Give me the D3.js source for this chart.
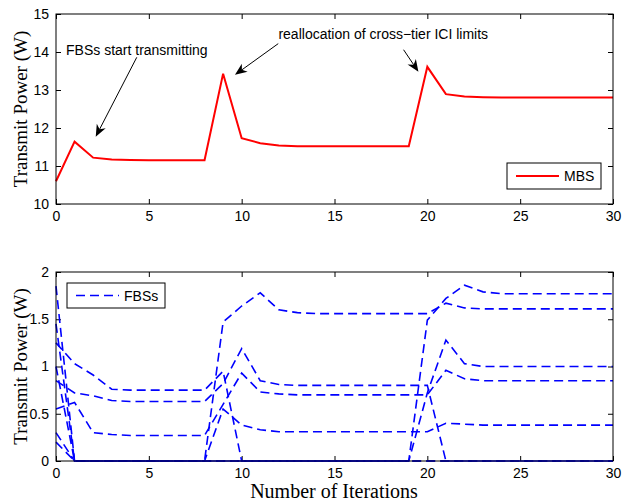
<!DOCTYPE html>
<html>
<head>
<meta charset="utf-8">
<script src="https://cdn.jsdelivr.net/npm/d3@7"></script>
<style>
  body { margin: 0; background: #fff; }
  svg { display: block; }
  .tick text { font-family: "Liberation Sans", Arial, sans-serif; font-size: 14px; fill: #000; }
  .domain { display: none; }
  .tick line { stroke: #000; stroke-width: 1; }
</style>
</head>
<body>
<svg id="chart" width="622" height="503"></svg>
<script>
// iterations (x axis)
const iterations = [0,1,2,3,4,5,6,7,8,9,10,11,12,13,14,15,16,17,18,19,20,21,22,23,24,25,26,27,28,29,30];

// macro base station transmit power (W)
const mbsPower = [10.6, 11.64, 11.22, 11.17, 11.16, 11.15, 11.15, 11.15, 11.15, 13.43, 11.73,
  11.6, 11.54, 11.52, 11.52, 11.52, 11.52, 11.52, 11.52, 11.52, 13.61,
  12.89, 12.83, 12.81, 12.8, 12.8, 12.8, 12.8, 12.8, 12.8, 12.8];

// femto base stations transmit power (W), one array per FBS
const fbs1 = [1.85, 0, 0, 0, 0, 0, 0, 0, 0, 1.47, 1.64,
  1.78, 1.60, 1.57, 1.56, 1.56, 1.56, 1.56, 1.56, 1.56, 1.56,
  1.67, 1.62, 1.61, 1.61, 1.61, 1.61, 1.61, 1.61, 1.61, 1.61];
const fbs2 = [1.25, 1.03, 0.91, 0.76, 0.75, 0.75, 0.75, 0.75, 0.75, 0.95, 0,
  0, 0, 0, 0, 0, 0, 0, 0, 0, 1.49,
  1.72, 1.86, 1.79, 1.77, 1.77, 1.77, 1.77, 1.77, 1.77, 1.77];
const fbs3 = [0.85, 0.72, 0.69, 0.64, 0.63, 0.63, 0.63, 0.63, 0.63, 0.82, 1.19,
  0.85, 0.81, 0.80, 0.80, 0.80, 0.80, 0.80, 0.80, 0.80, 0.80,
  0, 0, 0, 0, 0, 0, 0, 0, 0, 0];
const fbs4 = [0.55, 0.62, 0.30, 0.28, 0.27, 0.27, 0.27, 0.27, 0.27, 0.60, 0.93,
  0.73, 0.71, 0.70, 0.70, 0.70, 0.70, 0.70, 0.70, 0.70, 0.70,
  0.96, 0.87, 0.85, 0.85, 0.85, 0.85, 0.85, 0.85, 0.85, 0.85];
const fbs5 = [1.0, 0, 0, 0, 0, 0, 0, 0, 0, 0.55, 0.38,
  0.33, 0.31, 0.31, 0.31, 0.31, 0.31, 0.31, 0.31, 0.31, 0.31,
  0.40, 0.39, 0.38, 0.38, 0.38, 0.38, 0.38, 0.38, 0.38, 0.38];
const fbs6 = [0.3, 0, 0, 0, 0, 0, 0, 0, 0, 0, 0,
  0, 0, 0, 0, 0, 0, 0, 0, 0, 0.72,
  1.28, 1.03, 1.0, 1.0, 1.0, 1.0, 1.0, 1.0, 1.0, 1.0];
const fbs7 = [0.2, 0, 0, 0, 0, 0, 0, 0, 0, 0, 0,
  0, 0, 0, 0, 0, 0, 0, 0, 0, 0,
  0, 0, 0, 0, 0, 0, 0, 0, 0, 0];
const fbs8 = [1.45, 0, 0, 0, 0, 0, 0, 0, 0, 0, 0,
  0, 0, 0, 0, 0, 0, 0, 0, 0, 0,
  0, 0, 0, 0, 0, 0, 0, 0, 0, 0];
const fbsSeries = [fbs1, fbs2, fbs3, fbs4, fbs5, fbs6, fbs7, fbs8];

// ticks
const xTicks = [0, 5, 10, 15, 20, 25, 30];
const mbsTicks = [10, 11, 12, 13, 14, 15];
const fbsTicks = [0, 0.5, 1, 1.5, 2];
const fbsTickLabels = ["0", "0.5", "1", "1.5", "2"];

const svg = d3.select('#chart');
const left = 56, right = 613;

const x = d3.scaleLinear().domain([0, 30]).range([left, right]);
const yTop = d3.scaleLinear().domain([10, 15]).range([204, 14]);
const yBot = d3.scaleLinear().domain([0, 2]).range([461, 272]);

const TICK = 5;

function drawFrame(y, yTicks, yFmt) {
  const g = svg.append('g');
  const [y0, y1] = y.range();
  // bottom axis with labels
  g.append('g').attr('transform', `translate(0,${y0})`)
    .call(d3.axisBottom(x).tickValues(xTicks).tickSize(-TICK).tickPadding(7).tickFormat(d3.format('d')));
  // top mirror ticks
  g.append('g').attr('transform', `translate(0,${y1})`)
    .call(d3.axisTop(x).tickValues(xTicks).tickSize(-TICK).tickFormat(''));
  // left axis
  g.append('g').attr('transform', `translate(${left},0)`)
    .call(d3.axisLeft(y).tickValues(yTicks).tickSize(-TICK).tickPadding(7).tickFormat(yFmt));
  // right mirror ticks
  g.append('g').attr('transform', `translate(${right},0)`)
    .call(d3.axisRight(y).tickValues(yTicks).tickSize(-TICK).tickFormat(''));
  return g;
}

function drawBox(y) {
  const [y0, y1] = y.range();
  svg.append('rect')
    .attr('x', left).attr('y', y1)
    .attr('width', right - left).attr('height', y0 - y1)
    .attr('fill', 'none').attr('stroke', '#000').attr('stroke-width', 1);
}

// ---- top panel: MBS ----
drawFrame(yTop, mbsTicks, d3.format('d'));

const lineTop = d3.line().x((d, i) => x(iterations[i])).y(d => yTop(d));
svg.append('path')
  .datum(mbsPower)
  .attr('d', lineTop)
  .attr('fill', 'none')
  .attr('stroke', '#ff0000')
  .attr('stroke-width', 2)
  .attr('stroke-linejoin', 'miter');
drawBox(yTop);

// ---- bottom panel: FBSs ----
drawFrame(yBot, fbsTicks, (d, i) => fbsTickLabels[i]);

const lineBot = d3.line().x((d, i) => x(iterations[i])).y(d => yBot(d));
svg.append('g').selectAll('path')
  .data(fbsSeries)
  .enter().append('path')
  .attr('d', lineBot)
  .attr('fill', 'none')
  .attr('stroke', '#0000ff')
  .attr('stroke-width', 1.6)
  .attr('stroke-dasharray', '9,5');
drawBox(yBot);

// axis labels
const serif = '"Liberation Serif", "Times New Roman", serif';
svg.append('text')
  .attr('transform', `translate(27,${(yTop.range()[0] + yTop.range()[1]) / 2}) rotate(-90)`)
  .attr('text-anchor', 'middle')
  .style('font-family', serif).style('font-size', '19px')
  .text('Transmit Power (W)');
svg.append('text')
  .attr('transform', `translate(27,${(yBot.range()[0] + yBot.range()[1]) / 2}) rotate(-90)`)
  .attr('text-anchor', 'middle')
  .style('font-family', serif).style('font-size', '19px')
  .text('Transmit Power (W)');
svg.append('text')
  .attr('x', 334).attr('y', 498)
  .attr('text-anchor', 'middle')
  .style('font-family', serif).style('font-size', '20px')
  .text('Number of Iterations');

// legends
function legend(bx, by, w, h, color, dash, label) {
  const g = svg.append('g');
  g.append('rect').attr('x', bx).attr('y', by).attr('width', w).attr('height', h)
    .attr('fill', '#fff').attr('stroke', '#000').attr('stroke-width', 1);
  g.append('line').attr('x1', bx + 9).attr('x2', bx + 52).attr('y1', by + h / 2).attr('y2', by + h / 2)
    .attr('stroke', color).attr('stroke-width', dash ? 1.6 : 2).attr('stroke-dasharray', dash || null);
  g.append('text').attr('x', bx + 57).attr('y', by + h / 2 + 5)
    .style('font-family', '"Liberation Sans", Arial, sans-serif').style('font-size', '14px')
    .text(label);
}
legend(507, 163, 94, 26, '#ff0000', null, 'MBS');
legend(67, 283, 98, 25, '#0000ff', '9,5', 'FBSs');

// annotations (positions in data coordinates of the top panel)
function arrow(x1, y1, x2, y2) {
  const sx = x(x1), sy = yTop(y1), ex = x(x2), ey = yTop(y2);
  const ang = Math.atan2(ey - sy, ex - sx);
  const L = 12, W = 5, back = 8.5;
  const bx = ex - L * Math.cos(ang), by = ey - L * Math.sin(ang);
  const nx = -Math.sin(ang), ny = Math.cos(ang);
  const mx = ex - back * Math.cos(ang), my = ey - back * Math.sin(ang);
  svg.append('line').attr('x1', sx).attr('y1', sy).attr('x2', mx).attr('y2', my)
    .attr('stroke', '#000').attr('stroke-width', 1);
  svg.append('path')
    .attr('d', `M${ex},${ey} L${bx + nx * W},${by + ny * W} L${mx},${my} L${bx - nx * W},${by - ny * W} Z`)
    .attr('fill', '#000');
}
const annoFont = '"Liberation Sans", Arial, sans-serif';
svg.append('text').attr('x', x(0.54)).attr('y', yTop(13.93))
  .style('font-family', annoFont).style('font-size', '14px')
  .text('FBSs start transmitting');
arrow(4.35, 13.86, 2.14, 11.77);

svg.append('text').attr('x', x(11.98)).attr('y', yTop(14.35))
  .style('font-family', annoFont).style('font-size', '14px')
  .text('reallocation of cross\u2212tier ICI limits');
arrow(11.97, 14.22, 9.64, 13.4);
arrow(18.72, 14.06, 19.52, 13.48);
</script>
</body>
</html>
